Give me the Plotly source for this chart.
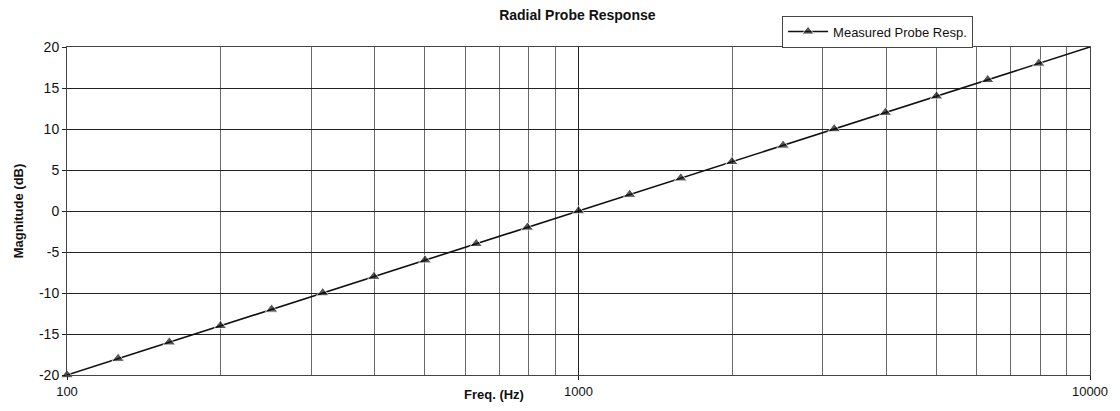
import plotly.graph_objects as go

# Measured probe response: frequency (Hz) vs magnitude (dB)
freq_hz = [100, 125.9, 158.5, 199.5, 251.2, 316.2, 398.1, 501.2, 631.0, 794.3,
           1000, 1259, 1585, 1995, 2512, 3162, 3981, 5012, 6310, 7943, 10000]
magnitude_db = [-20, -18, -16, -14, -12, -10, -8, -6, -4, -2,
                0, 2, 4, 6, 8, 10, 12, 14, 16, 18, 20]

x_major_ticks = [100, 1000, 10000]
x_tick_labels = ["100", "1000", "10000"]
x_minor_ticks = [200, 300, 400, 500, 600, 700, 800, 900,
                 2000, 3000, 4000, 5000, 6000, 7000, 8000, 9000]
y_ticks = [-20, -15, -10, -5, 0, 5, 10, 15, 20]
y_tick_labels = ["-20", "-15", "-10", "-5", "0", "5", "10", "15", "20"]

FONT = "Liberation Sans, Arial, sans-serif"

# the end point at 10 kHz only carries the line, no marker
marker_sizes = [11] * (len(freq_hz) - 1) + [0]

fig = go.Figure()
fig.add_trace(go.Scatter(
    x=freq_hz, y=magnitude_db,
    mode="lines+markers",
    name="Measured Probe Resp.",
    line=dict(color="#111111", width=1.6),
    marker=dict(symbol="triangle-up", size=marker_sizes, color="#111111"),
    cliponaxis=False,
))

fig.update_layout(
    width=1120, height=411,
    margin=dict(l=67, r=23, t=47, b=32),
    paper_bgcolor="white", plot_bgcolor="white",
    font=dict(family=FONT, size=12, color="#111111"),
    title=dict(text="<b>Radial Probe Response</b>", x=0.5155, xanchor="center",
               y=0.963, yanchor="middle", font=dict(size=14, family=FONT)),
    showlegend=True,
    legend=dict(x=0.699, y=1.096, xanchor="left", yanchor="top",
                bgcolor="white", bordercolor="#444444", borderwidth=1,
                font=dict(size=13, family=FONT), itemwidth=40,
                tracegroupgap=0),
    xaxis=dict(
        type="log", range=[2, 4],
        tickmode="array", tickvals=x_major_ticks, ticktext=x_tick_labels,
        ticks="outside", ticklen=4, tickcolor="#222222",
        tickfont=dict(size=13, family=FONT),
        showgrid=True, gridcolor="#222222", gridwidth=1,
        minor=dict(tickvals=x_minor_ticks, showgrid=True, gridcolor="#6a6a6a",
                   gridwidth=1, ticks=""),
        showline=True, linecolor="#444444", linewidth=1, mirror=True,
        zeroline=False,
    ),
    yaxis=dict(
        range=[-20, 20],
        tickmode="array", tickvals=y_ticks, ticktext=y_tick_labels,
        ticks="outside", ticklen=4, tickcolor="#222222",
        tickfont=dict(size=14, family=FONT),
        showgrid=True, gridcolor="#222222", gridwidth=1,
        showline=True, linecolor="#444444", linewidth=1, mirror=True,
        zeroline=False,
        title=dict(text="<b>Magnitude (dB)</b>", font=dict(size=13, family=FONT),
                   standoff=12),
    ),
)

# x-axis title sits on the tick-label row, left of the 1000 label
fig.add_annotation(text="<b>Freq. (Hz)</b>", xref="paper", yref="paper",
                   x=0.417, y=-0.06, xanchor="center", yanchor="middle",
                   showarrow=False, font=dict(size=13, family=FONT))

fig.write_html("out.html")
